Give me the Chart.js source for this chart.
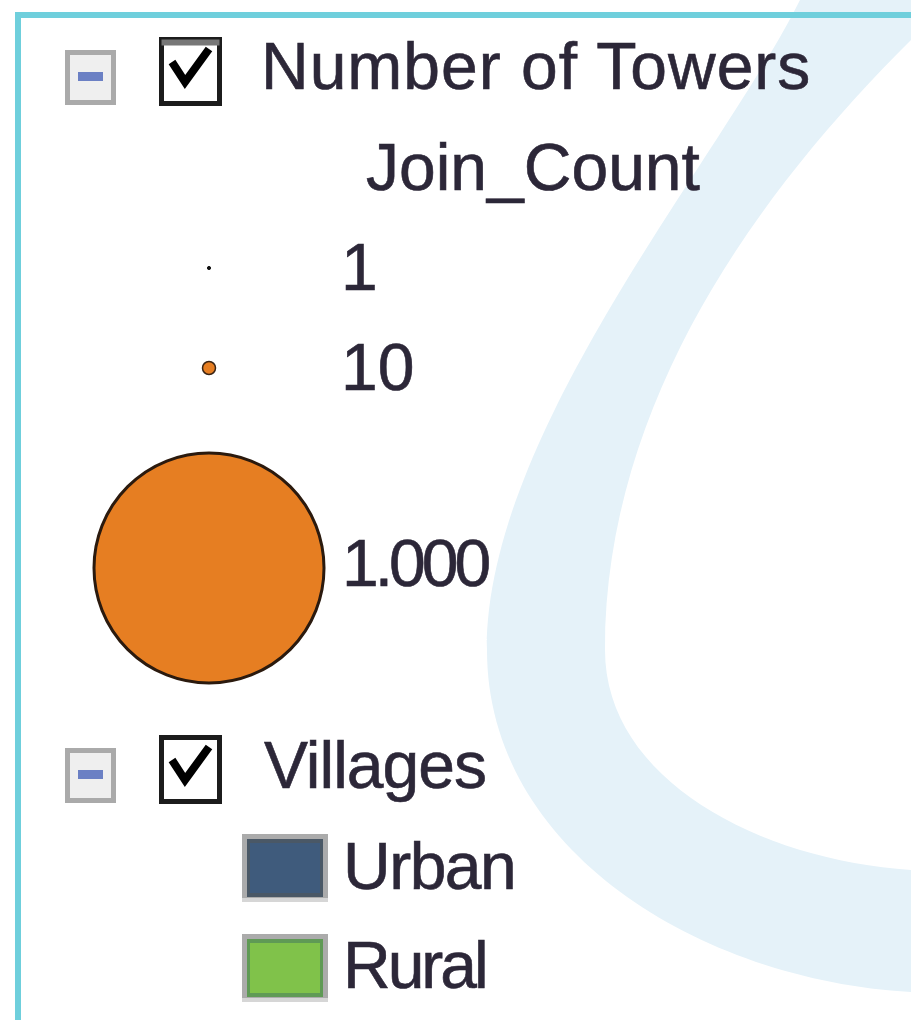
<!DOCTYPE html>
<html>
<head>
<meta charset="utf-8">
<title>Number of Towers / Villages legend</title>
<script src="https://cdn.jsdelivr.net/npm/chart.js@4.4.1/dist/chart.umd.min.js"></script>
<style>
    html, body {
        margin: 0;
        padding: 0;
        background: #ffffff;
    }
    #wrap {
        position: relative;
        width: 911px;
        height: 1020px;
        overflow: hidden;
        font-family: "Liberation Sans", Arial, sans-serif;
        color: #2c2738;
    }
    #legendChart {
        position: absolute;
        left: 0;
        top: 0;
    }
    .frame {
        position: absolute;
        left: 15px;
        top: 12px;
        right: -10px;
        bottom: -10px;
        border-left: 6px solid #6fcfdc;
        border-top: 6px solid #6fcfdc;
    }
    .txt {
        position: absolute;
        font-size: 66px;
        line-height: 66px;
        white-space: nowrap;
        -webkit-text-stroke: 0.6px #2c2738;
    }
    .expander {
        position: absolute;
        left: 65px;
        width: 41px;
        height: 45px;
        border: 5px solid #aaaaaa;
        background: #efefef;
    }
    .expander span {
        position: absolute;
        left: 8px;
        top: 17px;
        width: 25px;
        height: 9px;
        background: #6b80c4;
    }
    .check {
        position: absolute;
        left: 159px;
    }
</style>
</head>
<body>
<div id="wrap">
    <canvas id="legendChart" width="911" height="1020"></canvas>
    <div class="frame"></div>

    <!-- layer 1 -->
    <div class="expander" style="top:50px"><span></span></div>
    <svg class="check" style="top:37px" width="64" height="70" viewBox="0 0 64 70">
        <rect x="2.5" y="2.5" width="58" height="64" fill="#fff" stroke="#1c1c1c" stroke-width="5"/>
        <rect x="2.5" y="2.5" width="58" height="6" fill="#777"/>
        <polyline points="13,25 26,45 50,12" fill="none" stroke="#000" stroke-width="8"/>
    </svg>
    <div class="txt" style="left:261px; top:33px; letter-spacing:1px">Number of Towers</div>
    <div class="txt" style="left:366px; top:134px">Join_Count</div>
    <div class="txt" style="left:341px; top:234px">1</div>
    <div class="txt" style="left:341px; top:334px">10</div>
    <div class="txt" style="left:342px; top:530px; letter-spacing:-4px">1.000</div>

    <!-- layer 2 -->
    <div class="expander" style="top:748px"><span></span></div>
    <svg class="check" style="top:735px" width="64" height="70" viewBox="0 0 64 70">
        <rect x="2.5" y="2.5" width="58" height="64" fill="#fff" stroke="#1c1c1c" stroke-width="5"/>
        <polyline points="13,25 26,45 50,12" fill="none" stroke="#000" stroke-width="8"/>
    </svg>
    <div class="txt" style="left:264px; top:732px; letter-spacing:-1px">Villages</div>
    <div class="txt" style="left:343px; top:833px; letter-spacing:-1.5px">Urban</div>
    <div class="txt" style="left:343px; top:932px; letter-spacing:-3px">Rural</div>
</div>

<script>
// Legend rows (y slots, top to bottom)
const legendRows = ['Number of Towers', 'Join_Count', '1', '10', 'gap-a', '1.000', 'gap-b', 'Villages', 'Urban', 'Rural'];
// Symbol columns (x slots)
const symbolColumns = ['Join_Count', 'Villages'];

// Graduated symbols: Join_Count classes
const countLabels = ['1', '10', '1.000'];
const countValues = [1, 10, 1000];

// Unique values: village type
const villageClasses = ['Urban', 'Rural'];

// Styles
const countRadius = [1.6, 6.5, 115];
const countFill = ['#111111', '#e67e22', '#e67e22'];
const countBorder = ['#111111', '#3a2414', '#2b1a0e'];
const villageFill = ['#3f5b7c', '#80c24a'];
const villageInner = ['#4a5866', '#5f9a55'];

document.addEventListener('DOMContentLoaded', function() {
    initLegendChart();
});

// small canvas used as point style for a polygon patch
function makePatch(fill, inner) {
    const c = document.createElement('canvas');
    c.width = 86;
    c.height = 68;
    const g = c.getContext('2d');
    g.fillStyle = '#ababab';
    g.fillRect(0, 0, 86, 68);
    g.fillStyle = '#d6d6d6';
    g.fillRect(0, 64, 86, 4);
    g.fillStyle = inner;
    g.fillRect(5, 5, 76, 58);
    g.fillStyle = fill;
    g.fillRect(8, 9, 70, 50);
    return c;
}

// light blue swoosh behind the legend
const watermark = {
    id: 'watermark',
    beforeDraw(chart) {
        const ctx = chart.ctx;
        ctx.save();
        ctx.fillStyle = '#e5f2f9';
        ctx.beginPath();
        ctx.moveTo(800, 0);
        ctx.lineTo(911, 0);
        ctx.lineTo(911, 40);
        ctx.bezierCurveTo(760, 190, 605, 400, 605, 650);
        ctx.bezierCurveTo(605, 780, 760, 860, 911, 870);
        ctx.lineTo(911, 992);
        ctx.bezierCurveTo(700, 980, 487, 850, 487, 650);
        ctx.bezierCurveTo(487, 430, 720, 160, 800, 0);
        ctx.closePath();
        ctx.fill();
        ctx.restore();
    }
};

function initLegendChart() {
    const ctx = document.getElementById('legendChart').getContext('2d');
    const patches = villageClasses.map((c, i) => makePatch(villageFill[i], villageInner[i]));

    const legendChart = new Chart(ctx, {
        type: 'bubble',
        data: {
            datasets: [
                {
                    label: 'Number of Towers',
                    data: countValues.map((v, i) => ({ x: symbolColumns[0], y: countLabels[i], r: countRadius[i], count: v })),
                    backgroundColor: countFill,
                    borderColor: countBorder,
                    borderWidth: [1, 1.5, 3],
                    clip: false
                },
                {
                    label: 'Villages',
                    data: villageClasses.map(c => ({ x: symbolColumns[1], y: c, r: 10 })),
                    pointStyle: patches,
                    clip: false
                }
            ]
        },
        options: {
            responsive: false,
            animation: false,
            events: [],
            layout: {
                autoPadding: false,
                padding: { left: 171, right: 588, top: 18, bottom: 2 }
            },
            scales: {
                x: {
                    type: 'category',
                    labels: symbolColumns,
                    offset: true,
                    display: false
                },
                y: {
                    type: 'category',
                    labels: legendRows,
                    offset: true,
                    display: false
                }
            },
            plugins: {
                legend: { display: false },
                tooltip: { enabled: false }
            }
        },
        plugins: [watermark]
    });
}
</script>
</body>
</html>
